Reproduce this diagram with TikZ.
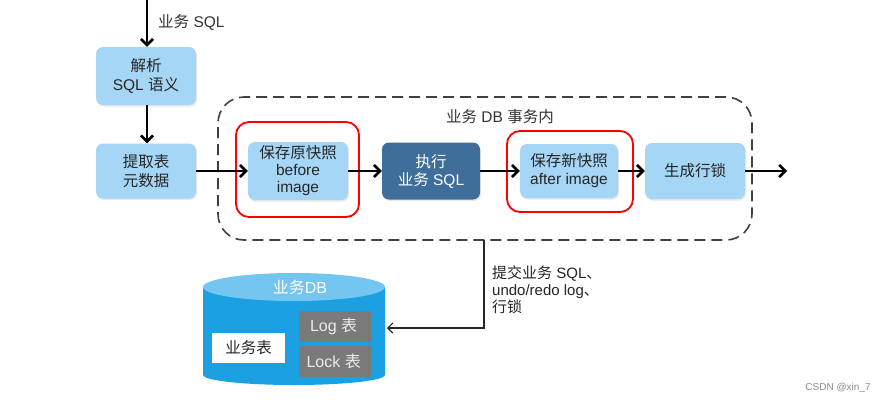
\documentclass[tikz,border=0pt]{standalone}
\usepackage{fontspec}
\setmainfont{Liberation Sans}
\newfontfamily\zh{Noto Sans CJK SC}
\usetikzlibrary{arrows.meta,positioning,calc,shadows}
\definecolor{boxblue}{HTML}{A6D6F5}
\definecolor{darkbox}{HTML}{3F6E9B}
\definecolor{dbbody}{HTML}{1BA1E2}
\definecolor{dbtop}{HTML}{74C6F0}
\definecolor{tabgray}{HTML}{7A7A7A}
\tikzset{
  stepbox/.style={draw=none, fill=boxblue, rounded corners=7pt, minimum width=100pt, minimum height=56pt, align=center, font=\fontsize{15.5}{18}\selectfont, text=black!85, inner sep=1pt, drop shadow={opacity=0.18, shadow xshift=1pt, shadow yshift=-1.5pt}},
  darkstep/.style={stepbox, fill=darkbox, text=white},
  flow/.style={line width=2.6pt, -{Straight Barb[length=6pt,width=12pt,line width=2.6pt]}},
  redframe/.style={draw=red, line width=1.8pt, rounded corners=13pt, fill=none},
  thinarrow/.style={line width=1.1pt, draw=black!85, -{Straight Barb[length=5pt,width=10pt,line width=1.1pt]}},
  tabbox/.style={fill=tabgray, text=white!92!black, minimum width=72pt, minimum height=31pt, inner sep=0pt, align=right, font=\fontsize{16}{18}\selectfont},
}
\begin{document}
\begin{tikzpicture}[x=1pt,y=-1pt]
\fill[white] (0,0) rectangle (887,405);
\useasboundingbox (0,0) rectangle (887,405);

% transaction dashed frame
\node[draw=black!75, dash pattern=on 11pt off 6pt, line width=1.6pt, rounded corners=26pt, minimum width=534pt, minimum height=143pt, inner sep=0pt] (txn) at (485,168.5) {};
\node[font=\fontsize{15.5}{17}\selectfont, text=black!80] (txnlabel) at (500,117) {{\zh 业务} DB {\zh 事务内}};

% red frames
\node[redframe, minimum width=123pt, minimum height=95pt, inner sep=0pt] (red1) at (297.5,169.5) {};
\node[redframe, minimum width=126pt, minimum height=81pt, inner sep=0pt] (red2) at (570,171.5) {};

% steps
\coordinate (start) at (147,0);
\node[stepbox, minimum height=58pt, font=\fontsize{15.5}{19.5}\selectfont] (parse) at (146,76) {{\zh 解析}\\SQL {\zh 语义}};
\node[stepbox, minimum height=55pt, font=\fontsize{15.5}{19.5}\selectfont] (meta) at (146,171) {{\zh 提取表}\\{\zh 元数据}};
\node[stepbox, minimum height=58pt, font=\fontsize{15.5}{17}\selectfont] (before) at (298,171) {{\zh 保存原快照}\\before\\image};
\node[darkstep, minimum width=98pt, minimum height=57pt] (exec) at (431,171) {{\zh 执行}\\{\zh 业务} SQL};
\node[stepbox, minimum width=98pt, minimum height=54pt] (after) at (569,171) {{\zh 保存新快照}\\after image};
\node[stepbox, minimum height=56pt] (lock) at (695,171) {{\zh 生成行锁}};
\coordinate (out) at (787,171);

\draw[flow] (start) -- (parse.north -| start);
\node[font=\fontsize{15.5}{17}\selectfont, text=black!80, anchor=west, inner sep=0pt] (sqllabel) at (158,22) {{\zh 业务} SQL};
\draw[flow] (parse.south -| start) -- (meta.north -| start);
\draw[flow] (meta.east) -- (before.west);
\draw[flow] (before.east) -- (exec.west);
\draw[flow] (exec.east) -- (after.west);
\draw[flow] (after.east) -- (lock.west);
\draw[flow] (lock.east) -- (out);

% database cylinder
\fill[dbbody] (203,287) -- (203,375) arc[start angle=180, end angle=0, x radius=91, y radius=10] -- (385,287) -- cycle;
\fill[dbtop] (294,287) ellipse[x radius=91, y radius=14];
\node[text=white, font=\fontsize{16}{18}\selectfont] (dblabel) at (300,287) {{\zh 业务}DB};
\node[fill=white, minimum width=73pt, minimum height=30pt, inner sep=0pt, font=\fontsize{15.5}{17}\selectfont, text=black!85] (biz) at (248.5,347.5) {{\zh 业务表}};
\node[tabbox] (logt) at (335,326) {Log {\zh 表}\,};
\node[tabbox] (lockt) at (335,361.5) {Lock {\zh 表}\,};
\coordinate (dbin) at (387,328);

% commit connector
\coordinate (drop) at (484,240);
\draw[thinarrow] (drop) |- (dbin);
\node[anchor=north west, align=left, font=\fontsize{15}{17}\selectfont, text=black!85, inner sep=0pt] (commit) at (492,266) {{\zh 提交业务} SQL{\zh 、}\\undo/redo log{\zh 、}\\{\zh 行锁}};

% watermark
\node[font=\fontsize{10}{11}\selectfont, text=black!45] (wm) at (838,388) {CSDN @xin\_7};
\end{tikzpicture}
\end{document}
